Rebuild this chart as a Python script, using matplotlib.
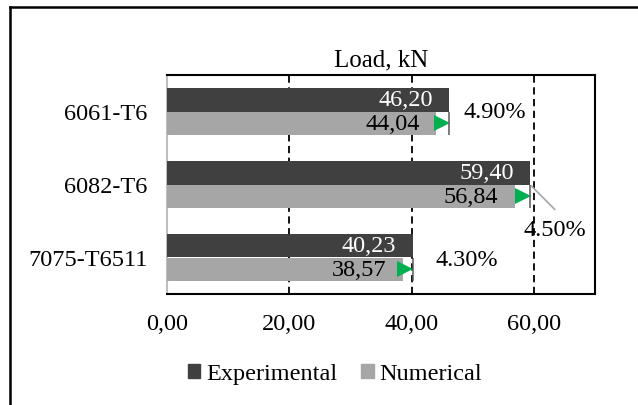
import matplotlib
matplotlib.use('Agg')
import numpy as np
import matplotlib.pyplot as plt
import matplotlib.transforms as mtransforms
from matplotlib.patches import Patch
from matplotlib.lines import Line2D

alloys = ['6061-T6', '6082-T6', '7075-T6511']
experimental = [46.20, 59.40, 40.23]
numerical = [44.04, 56.84, 38.57]
diff_labels = ['4.90%', '4.50%', '4.30%']
xticks = [0, 20, 40, 60]

dark = '#404040'
light = '#A6A6A6'
green = '#00B050'

plt.rcParams['font.family'] = ['Liberation Serif', 'DejaVu Serif']
fontsize = 17.5

fig = plt.figure(figsize=(6.38, 4.06), dpi=100)
ax = fig.add_axes([167/638, 1-295/406, 428/638, 219/406])

y = np.arange(len(alloys))
h = 0.325
ax.barh(y - h/2, experimental, height=h, color=dark, zorder=3)
ax.barh(y + h/2, numerical, height=h, color=light, zorder=3)

# value labels, inside end
for i in range(len(alloys)):
    ax.annotate(f'{experimental[i]:.2f}'.replace('.', ','), (experimental[i], y[i] - h/2),
                xytext=(-12, 0), textcoords='offset points', ha='right', va='center',
                color='white', fontsize=fontsize, zorder=5)
    ax.annotate(f'{numerical[i]:.2f}'.replace('.', ','), (numerical[i], y[i] + h/2),
                xytext=(-12, 0), textcoords='offset points', ha='right', va='center',
                color='black', fontsize=fontsize, zorder=5)

# marker from numerical to experimental
ms = 11
shift = mtransforms.offset_copy(ax.transData, fig=fig, x=-ms/2, y=0, units='points')
ax.plot(experimental, y + h/2, linestyle='none', marker='>', markersize=ms,
        color=green, markeredgewidth=0, transform=shift, zorder=6)
ax.vlines(experimental, y, y + h, color='#595959', linewidth=1.1, zorder=6)

# percentage labels
pct_pos = [(53.6, 0.0), (63.4, 1.62), (49.0, 2.03)]
for lab, (px, py) in zip(diff_labels, pct_pos):
    ax.text(px, py, lab, ha='center', va='center', fontsize=fontsize, zorder=5)
ax.plot([59.6, 63.4], [1.02, 1.34], color=light, linewidth=1.2, zorder=5)

ax.set_xlim(0, 70)
ax.set_ylim(2.5, -0.5)
ax.set_xticks(xticks, [f'{v:.2f}'.replace('.', ',') for v in xticks])
ax.set_yticks(y, alloys)
ax.tick_params(axis='both', length=0, labelsize=fontsize)
ax.tick_params(axis='y', pad=14)
ax.tick_params(axis='x', pad=14)
for v in xticks[1:]:
    ax.axvline(v, color='black', linewidth=1.3, linestyle=(0, (4, 2.5)), zorder=1)

for s in ['top', 'right', 'bottom']:
    ax.spines[s].set_linewidth(1.5)
    ax.spines[s].set_color('black')
ax.spines['left'].set_color('#BFBFBF')
ax.spines['left'].set_linewidth(1.5)

ax.set_title('Load, kN', fontsize=18, pad=7)

handles = [Patch(color=dark, label='Experimental'), Patch(color=light, label='Numerical')]
fig.legend(handles=handles, loc='center', bbox_to_anchor=(335/638, 1-375/406), ncol=2,
           frameon=False, fontsize=fontsize, handlelength=0.5, handleheight=0.5,
           handletextpad=0.25, columnspacing=1.0)

# outer chart frame
fig.add_artist(Line2D([10/638, 10/638], [0, 1-8/406], color='black', linewidth=1.8,
                      transform=fig.transFigure))
fig.add_artist(Line2D([10/638, 1], [1-8/406, 1-8/406], color='black', linewidth=1.8,
                      transform=fig.transFigure))

fig.savefig('out.png', dpi=100)
